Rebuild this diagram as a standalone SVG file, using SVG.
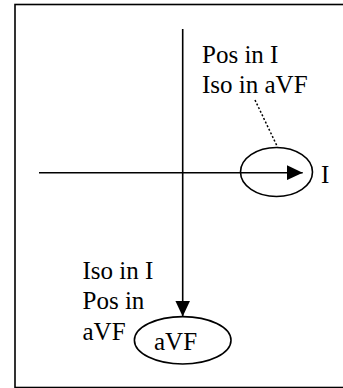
<svg xmlns="http://www.w3.org/2000/svg" width="343" height="388" viewBox="0 0 343 388">
  <defs>
    <style>
      .lbl { font-family: "Liberation Serif", "Times New Roman", serif; font-size: 25px; fill: #000; }
      .ax { stroke: #000; stroke-width: 1.6; fill: none; }
      .node { stroke: #000; stroke-width: 1.6; fill: none; }
    </style>
    <marker id="arr" markerUnits="userSpaceOnUse" markerWidth="16" markerHeight="15" refX="16" refY="7.5" orient="auto">
      <path d="M0,0 L16,7.5 L0,15 z" fill="#000"/>
    </marker>
  </defs>
  <rect x="0" y="0" width="343" height="388" fill="#fff"/>
  <rect id="frame" x="15" y="4.5" width="340" height="383" fill="none" stroke="#000" stroke-width="1.6"/>
  <g id="connectors">
    <line class="ax" x1="39" y1="172.7" x2="302.7" y2="172.7" marker-end="url(#arr)"/>
    <line class="ax" x1="182.7" y1="29" x2="182.7" y2="316.5" marker-end="url(#arr)"/>
    <line x1="255" y1="100" x2="277.5" y2="147" stroke="#000" stroke-width="1.5" stroke-dasharray="2 2"/>
  </g>
  <g id="node-I">
    <ellipse class="node" cx="276.5" cy="172" rx="36" ry="24.5"/>
    <text class="lbl" x="321" y="182.7">I</text>
  </g>
  <g id="node-aVF">
    <ellipse class="node" cx="182.7" cy="340.3" rx="48.3" ry="23.7"/>
    <text class="lbl" x="154" y="350">aVF</text>
  </g>
  <g id="label-top">
    <text class="lbl" x="202" y="63.3">Pos in I</text>
    <text class="lbl" x="202" y="93.3">Iso in aVF</text>
  </g>
  <g id="label-bottom">
    <text class="lbl" x="82.5" y="278.5">Iso in I</text>
    <text class="lbl" x="82.5" y="309.3">Pos in</text>
    <text class="lbl" x="82.5" y="340">aVF</text>
  </g>
</svg>
